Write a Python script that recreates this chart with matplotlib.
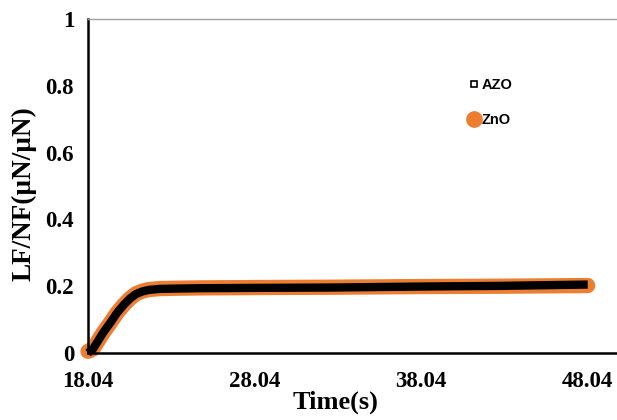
import numpy as np
import matplotlib.pyplot as plt
from matplotlib.lines import Line2D

# values (time in s, LF/NF ratio)
time_azo = [18.04, 18.34, 18.94, 19.4, 19.78, 20.2, 20.56, 20.9, 21.28, 21.7, 22.36, 23.5,
            24.77, 28.04, 32.6, 38.04, 42.8, 48.04]
lfnf_azo = [0.0, 0.012, 0.06, 0.092, 0.12, 0.145, 0.163, 0.176, 0.184, 0.189, 0.192, 0.193,
            0.194, 0.195, 0.196, 0.199, 0.201, 0.205]

time_zno = [18.04, 18.34, 18.94, 19.4, 19.78, 20.2, 20.56, 20.9, 21.28, 21.7, 22.36, 23.5,
            24.77, 28.04, 32.6, 38.04, 42.8, 48.04]
lfnf_zno = [0.005, 0.012, 0.06, 0.092, 0.12, 0.145, 0.163, 0.177, 0.185, 0.19, 0.193, 0.194,
            0.195, 0.196, 0.197, 0.199, 0.2, 0.202]

xticks = [18.04, 28.04, 38.04, 48.04]
yticks = [0, 0.2, 0.4, 0.6, 0.8, 1]
ytick_labels = ['0', '0.2', '0.4', '0.6', '0.8', '1']

fig = plt.figure(figsize=(6.17, 4.2), dpi=100)
ax = fig.add_axes([0.1426, 0.1595, 0.8574, 0.7952])

ax.plot(time_zno, lfnf_zno, color='#ED7D31', lw=11, solid_capstyle='round',
        solid_joinstyle='round', clip_on=False, zorder=2)
ax.plot(time_azo, lfnf_azo, color='black', lw=6, solid_capstyle='butt',
        solid_joinstyle='round', clip_on=False, zorder=3)

ax.set_xlim(18.04, 49.8)
ax.set_ylim(0, 1)
ax.set_xticks(xticks)
ax.set_xticklabels([f'{t:.2f}' for t in xticks])
ax.set_yticks(yticks)
ax.set_yticklabels(ytick_labels)
ax.tick_params(axis='x', length=0, pad=13, labelsize=16.5)
ax.tick_params(axis='y', length=0, pad=10, labelsize=16.5)
for lab in ax.get_xticklabels() + ax.get_yticklabels():
    lab.set_fontfamily('Liberation Serif')
    lab.set_fontweight('bold')

ax.spines['left'].set_linewidth(1.8)
ax.spines['bottom'].set_linewidth(1.8)
ax.spines['top'].set_color('#A0A0A0')
ax.spines['top'].set_linewidth(1.0)
ax.spines['right'].set_visible(False)

ax.set_xlabel('Time(s)', fontfamily='Liberation Serif', fontweight='bold', fontsize=19)
ax.xaxis.set_label_coords(0.467, -0.112)
ax.set_ylabel('LF/NF(µN/µN)', fontfamily='Liberation Serif', fontweight='bold', fontsize=19.5)
ax.yaxis.set_label_coords(-0.098, 0.476)

handles = [Line2D([], [], ls='none', marker='s', markersize=5, markerfacecolor='white',
                  markeredgecolor='black', markeredgewidth=1.2),
           Line2D([], [], ls='none', marker='o', markersize=11, color='#ED7D31')]
ax.legend(handles, ['AZO', 'ZnO'], loc='center left', bbox_to_anchor=(0.704, 0.75),
          frameon=False, borderpad=0, handlelength=0.8, handletextpad=0.15, labelspacing=1.45,
          prop={'family': 'Liberation Sans', 'weight': 'bold', 'size': 10.5})

plt.savefig('out.png', dpi=100)
